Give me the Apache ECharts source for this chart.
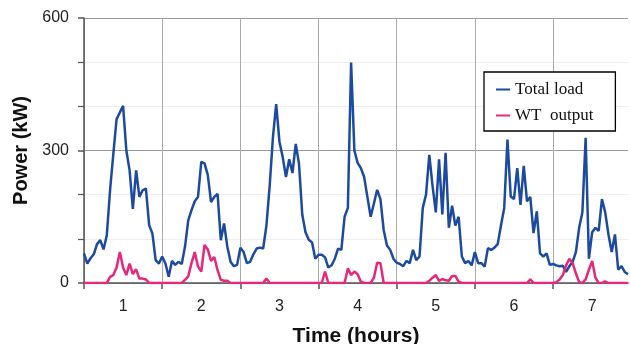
<!DOCTYPE html>
<html>
<head>
<meta charset="utf-8">
<script src="https://cdn.jsdelivr.net/npm/echarts@6/dist/echarts.min.js"></script>
<style>
  html, body { margin: 0; padding: 0; background: #fff; }
  #chart { width: 630px; height: 344px; }
</style>
</head>
<body>
<div id="chart"></div>
<script>
// hourly samples, 24 per day, 7 days
const dayLabels = ['1', '2', '3', '4', '5', '6', '7'];
const hoursPerDay = 24;

const totalLoad = [
  67, 44, 56, 65, 88, 97, 76, 108, 210, 292, 371, 386, 401, 300, 255, 168, 255, 195, 210, 214, 131, 112, 52, 44,
  60, 44, 14, 50, 41, 48, 43, 82, 142, 165, 185, 195, 274, 271, 245, 183, 195, 202, 97, 135, 82, 48, 38, 41,
  80, 70, 45, 48, 65, 78, 80, 78, 130, 220, 330, 405, 320, 285, 240, 280, 249, 315, 270, 155, 115, 98, 92, 55,
  64, 64, 58, 35, 40, 55, 78, 75, 150, 170, 499, 300, 272, 260, 240, 195, 150, 180, 211, 190, 120, 85, 75, 55,
  46, 43, 38, 50, 45, 75, 52, 60, 170, 200, 290, 220, 160, 280, 155, 295, 125, 175, 130, 150, 60, 45, 50, 40,
  70, 45, 45, 37, 79, 75, 80, 88, 130, 170, 325, 196, 190, 260, 177, 265, 185, 195, 113, 162, 67, 60, 67, 41,
  43, 40, 38, 39, 25, 38, 48, 70, 125, 160, 329, 55, 115, 125, 118, 190, 160, 110, 70, 110, 30, 38, 25, 20
];

const wtOutput = [
  0, 0, 0, 0, 0, 0, 0, 0, 14, 18, 35, 70, 35, 18, 44, 20, 31, 10, 10, 8, 0, 0, 0, 0,
  0, 0, 0, 0, 0, 0, 0, 7, 15, 45, 70, 37, 26, 86, 76, 50, 59, 29, 7, 5, 5, 0, 0, 0,
  0, 0, 0, 0, 0, 0, 0, 0, 10, 0, 0, 0, 0, 0, 0, 0, 0, 0, 0, 0, 0, 0, 0, 0,
  0, 0, 26, 0, 0, 0, 0, 0, 0, 33, 18, 26, 20, 3, 0, 0, 0, 12, 46, 45, 0, 0, 0, 0,
  0, 0, 0, 0, 0, 0, 0, 0, 0, 0, 5, 12, 18, 5, 9, 6, 5, 16, 16, 3, 0, 0, 0, 0,
  0, 0, 0, 0, 0, 0, 0, 0, 0, 0, 0, 0, 0, 0, 0, 0, 0, 8, 0, 0, 0, 0, 0, 0,
  0, 2, 8, 18, 40, 55, 45, 22, 2, 0, 8, 30, 50, 12, 0, 0, 4, 0, 0, 0, 0, 0, 0, 0
];

const hours = totalLoad.map((v, i) => String(i));

let chart = echarts.init(document.getElementById('chart'));

let option = {
    animation: false,
    textStyle: { fontFamily: 'Liberation Sans, Arial, sans-serif' },
    grid: { left: 84, right: 2, top: 18, bottom: 61, outerBoundsMode: 'none', containLabel: false },
    legend: {
        orient: 'vertical',
        left: 484,
        top: 72,
        padding: [9, 22, 7, 12],
        itemGap: 9,
        itemWidth: 14,
        itemHeight: 2,
        icon: 'rect',
        backgroundColor: '#fff',
        borderColor: '#000',
        borderWidth: 1.3,
        borderRadius: 0,
        textStyle: {
            fontFamily: 'Liberation Serif, Times New Roman, serif',
            fontSize: 17,
            color: '#111'
        },
        data: ['Total load', 'WT  output']
    },
    xAxis: {
        type: 'category',
        data: hours,
        boundaryGap: false,
        name: 'Time (hours)',
        nameLocation: 'middle',
        nameGap: 43,
        nameTextStyle: { fontSize: 21, fontWeight: 'bold', color: '#111' },
        axisLine: { lineStyle: { color: '#555', width: 1.5 } },
        axisTick: {
            length: 6,
            interval: (i) => i % hoursPerDay === 0,
            lineStyle: { color: '#555', width: 1.5 }
        },
        axisLabel: {
            interval: (i) => i % hoursPerDay === hoursPerDay / 2,
            formatter: (v, i) => dayLabels[Math.floor(Number(v) / hoursPerDay)],
            fontSize: 16,
            color: '#222',
            margin: 16
        },
        splitLine: {
            show: true,
            interval: (i) => i % hoursPerDay === 0,
            lineStyle: { color: '#aaa', width: 1 }
        }
    },
    yAxis: {
        type: 'value',
        min: 0,
        max: 600,
        interval: 300,
        name: 'Power (kW)',
        nameLocation: 'middle',
        nameGap: 53,
        nameTextStyle: { fontSize: 20, fontWeight: 'bold', color: '#111' },
        axisLine: { show: true, lineStyle: { color: '#555', width: 1.5 } },
        axisTick: { show: true, length: 6, lineStyle: { color: '#555', width: 1.5 } },
        minorTick: { show: true, splitNumber: 3, length: 6, lineStyle: { color: '#555', width: 1.2 } },
        axisLabel: { fontSize: 16, color: '#222', margin: 15 },
        splitLine: { show: true, lineStyle: { color: '#999', width: 1 } },
        minorSplitLine: { show: true, lineStyle: { color: '#eee', width: 1 } }
    },
    series: [
        {
            name: 'Total load',
            type: 'line',
            data: totalLoad,
            symbol: 'none',
            color: '#1c4aa0',
            lineStyle: { width: 2.5, color: '#1c4aa0' }
        },
        {
            name: 'WT  output',
            type: 'line',
            data: wtOutput,
            symbol: 'none',
            color: '#e8267a',
            lineStyle: { width: 2.5, color: '#e8267a' }
        }
    ]
};
chart.setOption(option);

window.addEventListener('resize', function () {
    chart.resize();
});
</script>
</body>
</html>
